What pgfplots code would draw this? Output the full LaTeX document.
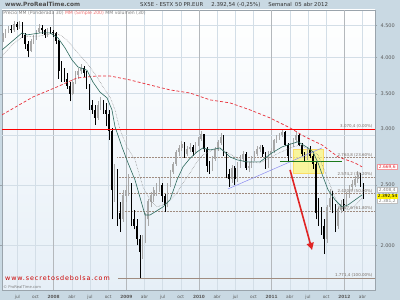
\documentclass[border=0pt]{standalone}
\usepackage{pgfplots}
\pgfplotsset{compat=1.18}
\usepackage{pgfplotstable}
\usepackage{fontspec}
\setmainfont{DejaVu Sans}
\newfontfamily\wfont[LetterSpace=14]{DejaVu Sans}
\usetikzlibrary{arrows.meta}
\definecolor{bgout}{HTML}{C9D9E3}
\definecolor{plotbot}{HTML}{E6EFF7}
\definecolor{gridc}{HTML}{D3DEE7}
\definecolor{yearc}{HTML}{B4B8BC}
\definecolor{axisc}{HTML}{9AA4AC}
\definecolor{lab}{HTML}{5A5A5A}
\definecolor{upc}{HTML}{A8A8A8}
\definecolor{tealc}{HTML}{2D6A5E}
\definecolor{smac}{HTML}{E8303A}
\definecolor{fibc}{HTML}{A08C80}
\definecolor{fibt}{HTML}{7A6E66}
\definecolor{bluel}{HTML}{8C8CF0}
\definecolor{greenl}{HTML}{1C7A1C}
\definecolor{arrowc}{HTML}{E02424}
\definecolor{yel}{HTML}{FBF57E}
\definecolor{legpink}{HTML}{F07070}

\pgfplotstableread{
t o h l c
2007.300 4280 4380 4230 4330
2007.338 4330 4450 4300 4400
2007.377 4400 4490 4370 4450
2007.415 4450 4500 4380 4420
2007.454 4420 4570 4400 4520
2007.492 4520 4560 4430 4480
2007.531 4480 4580 4450 4540
2007.569 4540 4560 4300 4350
2007.608 4350 4380 4120 4200
2007.646 4200 4250 4000 4100
2007.685 4100 4280 4080 4250
2007.723 4250 4340 4200 4300
2007.762 4300 4430 4270 4400
2007.800 4400 4520 4380 4460
2007.838 4460 4500 4360 4420
2007.877 4420 4440 4300 4350
2007.915 4350 4460 4320 4420
2007.954 4420 4470 4360 4400
2007.992 4400 4430 4320 4380
2008.031 4380 4400 4200 4250
2008.069 4250 4260 3700 3800
2008.108 3800 3950 3650 3750
2008.146 3750 3850 3650 3700
2008.185 3700 3780 3560 3600
2008.223 3600 3650 3400 3500
2008.262 3500 3700 3480 3650
2008.300 3650 3800 3620 3750
2008.338 3750 3850 3700 3800
2008.377 3800 3900 3760 3850
2008.415 3850 3870 3720 3780
2008.454 3780 3800 3560 3600
2008.492 3600 3620 3300 3350
2008.531 3350 3420 3250 3300
2008.569 3300 3350 3120 3200
2008.608 3200 3400 3180 3350
2008.646 3350 3450 3300 3380
2008.685 3380 3420 3250 3300
2008.723 3300 3380 3100 3250
2008.762 3250 3300 2950 3050
2008.800 3050 3080 2200 2450
2008.838 2450 2700 2350 2600
2008.877 2600 2650 2150 2250
2008.915 2250 2350 2100 2200
2008.954 2200 2450 2180 2400
2008.992 2400 2500 2350 2450
2009.031 2450 2600 2400 2500
2009.069 2500 2520 2150 2200
2009.108 2200 2280 2120 2150
2009.146 2150 2200 2000 2050
2009.185 2050 2080 1771 1950
2009.223 1950 2080 1900 2050
2009.262 2050 2250 2020 2200
2009.300 2200 2370 2150 2350
2009.338 2350 2430 2300 2400
2009.377 2400 2480 2350 2450
2009.415 2450 2520 2400 2470
2009.454 2470 2560 2430 2500
2009.492 2500 2520 2350 2400
2009.531 2400 2420 2260 2320
2009.569 2320 2520 2300 2500
2009.608 2500 2640 2480 2620
2009.646 2620 2720 2600 2700
2009.685 2700 2840 2680 2820
2009.723 2820 2900 2780 2860
2009.762 2860 2940 2830 2900
2009.800 2900 2930 2760 2800
2009.838 2800 2880 2780 2850
2009.877 2850 2920 2820 2870
2009.915 2870 2890 2780 2820
2009.954 2820 2930 2800 2910
2009.992 2910 2980 2880 2960
2010.031 2960 3050 2940 3010
2010.069 3010 3020 2820 2850
2010.108 2850 2870 2620 2680
2010.146 2680 2730 2600 2650
2010.185 2650 2780 2630 2750
2010.223 2750 2870 2730 2850
2010.262 2850 2950 2830 2920
2010.300 2920 3030 2900 2980
2010.338 2980 3000 2780 2800
2010.377 2800 2820 2560 2600
2010.415 2600 2650 2480 2550
2010.454 2550 2690 2520 2660
2010.492 2660 2680 2500 2550
2010.531 2550 2720 2530 2700
2010.569 2700 2790 2660 2750
2010.608 2750 2830 2720 2800
2010.646 2800 2820 2640 2660
2010.685 2660 2720 2620 2680
2010.723 2680 2780 2660 2760
2010.762 2760 2830 2730 2800
2010.800 2800 2880 2780 2850
2010.838 2850 2900 2820 2870
2010.877 2870 2890 2770 2800
2010.915 2800 2820 2650 2680
2010.954 2680 2830 2660 2800
2010.992 2800 2860 2770 2830
2011.031 2830 2960 2810 2950
2011.069 2950 3000 2920 2980
2011.108 2980 3030 2950 3000
2011.146 3000 3070 2980 3040
2011.185 3040 3050 2880 2900
2011.223 2900 2920 2720 2780
2011.262 2780 2920 2760 2900
2011.300 2900 2970 2870 2950
2011.338 2950 3040 2930 3000
2011.377 3000 3010 2880 2900
2011.415 2900 2920 2780 2800
2011.454 2800 2820 2720 2760
2011.492 2760 2870 2740 2840
2011.531 2840 2880 2760 2780
2011.569 2780 2800 2650 2700
2011.608 2700 2720 2200 2250
2011.646 2250 2380 2150 2200
2011.685 2200 2300 2080 2150
2011.723 2150 2200 1935 2050
2011.762 2050 2320 2020 2300
2011.800 2300 2460 2280 2380
2011.838 2380 2440 2250 2300
2011.877 2300 2330 2100 2150
2011.915 2150 2300 2120 2280
2011.954 2280 2360 2250 2330
2011.992 2330 2370 2270 2320
2012.031 2320 2430 2300 2400
2012.069 2400 2500 2380 2480
2012.108 2480 2540 2450 2500
2012.146 2500 2580 2480 2550
2012.185 2550 2630 2520 2590
2012.223 2590 2610 2480 2500
2012.262 2500 2520 2370 2392
}\candles

\begin{document}
\begin{tikzpicture}[x=1pt,y=1pt]
\useasboundingbox (0,0) rectangle (400,300);
\fill[bgout] (0,0) rectangle (400,300);
\begin{axis}[
  at={(2pt,10pt)}, anchor=south west, scale only axis,
  width=373pt, height=280pt,
  xmin=2007.2884, xmax=2012.4226,
  ymode=log, ymin=1695.8, ymax=4765,
  axis background/.style={top color=white, bottom color=plotbot},
  axis line style={draw=axisc},
  grid=major, major grid style={draw=gridc, line width=0.45pt},
  xtick={2007.5,2007.75,2008.25,2008.5,2008.75,2009.25,2009.5,2009.75,2010.25,2010.5,2010.75,2011.25,2011.5,2011.75,2012.25},
  xticklabels={jul,oct,abr,jul,oct,abr,jul,oct,abr,jul,oct,abr,jul,oct,abr},
  extra x ticks={2008,2009,2010,2011,2012},
  extra x tick labels={\textbf{2008},\textbf{2009},\textbf{2010},\textbf{2011},\textbf{2012}},
  extra x tick style={major grid style={draw=yearc, line width=0.6pt}, xtick style={draw=none}},
  xtick style={draw=none},
  ytick={2000,2500,3500,4000,4500},
  yticklabels={2.000,2.500,3.500,4.000,4.500},
  extra y ticks={3000},
  extra y tick labels={3.000},
  extra y tick style={yticklabel style={yshift=7pt}, ytick style={draw=none}},
  yticklabel pos=right,
  ytick style={draw=axisc},
  tick align=outside, major tick length=2.5pt,
  xticklabel style={font=\fontsize{4.3}{5}\selectfont, text=lab, yshift=1pt},
  yticklabel style={font=\fontsize{5}{6}\selectfont, text=lab, xshift=-0.5pt},
  unbounded coords=discard,
]
% fibonacci levels
\addplot[fibc, densely dotted, line width=0.5pt, forget plot] coordinates {(2008.873,2763.8) (2012.4226,2763.8)};
\addplot[fibc, densely dotted, line width=0.5pt, forget plot] coordinates {(2008.873,2574.2) (2012.4226,2574.2)};
\addplot[fibc, densely dotted, line width=0.5pt, forget plot] coordinates {(2008.873,2420.9) (2012.4226,2420.9)};
\addplot[fibc, densely dotted, line width=0.5pt, forget plot] coordinates {(2008.873,2267.6) (2012.4226,2267.6)};
\addplot[fibc, line width=0.6pt, forget plot] coordinates {(2008.886,1771.4) (2012.4226,1771.4)};
% yellow box
\addplot[fill=yel, fill opacity=0.75, draw=yel!80!orange, line width=0.4pt, forget plot] coordinates {(2011.293,2611) (2011.707,2611) (2011.707,2853) (2011.293,2853)} -- cycle;
% wicks up
\addplot[draw=none, mark=none, forget plot,
  error bars/.cd, y dir=plus, y explicit, error mark=none,
  error bar style={line width=0.5pt, color=upc}]
  table[x=t, y expr={(\thisrow{c}>=\thisrow{o}) ? \thisrow{l} : nan}, y error plus expr={\thisrow{h}-\thisrow{l}}] {\candles};
% wicks down
\addplot[draw=none, mark=none, forget plot,
  error bars/.cd, y dir=plus, y explicit, error mark=none,
  error bar style={line width=0.5pt, color=black}]
  table[x=t, y expr={(\thisrow{c}<\thisrow{o}) ? \thisrow{l} : nan}, y error plus expr={\thisrow{h}-\thisrow{l}}] {\candles};
% bodies up
\addplot[draw=none, mark=none, forget plot,
  error bars/.cd, y dir=plus, y explicit, error mark=none,
  error bar style={line width=1.6pt, color=upc}]
  table[x=t, y expr={(\thisrow{c}>=\thisrow{o}) ? \thisrow{o} : nan}, y error plus expr={\thisrow{c}-\thisrow{o}+3}] {\candles};
% bodies down
\addplot[draw=none, mark=none, forget plot,
  error bars/.cd, y dir=plus, y explicit, error mark=none,
  error bar style={line width=1.6pt, color=black}]
  table[x=t, y expr={(\thisrow{c}<\thisrow{o}) ? \thisrow{c} : nan}, y error plus expr={\thisrow{o}-\thisrow{c}}] {\candles};
% 0% level
\addplot[red, line width=0.8pt, forget plot] coordinates {(2007.2884,3070.4) (2012.4226,3070.4)};
% blue trend line
\addplot[bluel, line width=0.5pt, forget plot] coordinates {(2010.399,2462) (2011.693,2864)};
% green line
\addplot[greenl, line width=1pt, forget plot] coordinates {(2011.114,2720) (2011.968,2720)};
% SMA 200
\addplot[smac, line width=0.7pt, dash pattern=on 3pt off 2pt, forget plot] coordinates {
(2007.288,3236) (2007.715,3457) (2008.045,3587) (2008.321,3708) (2008.596,3735) (2008.775,3735)
(2009.050,3681) (2009.326,3613) (2009.601,3548) (2009.876,3508) (2010.151,3420) (2010.427,3382)
(2010.702,3296) (2010.977,3200) (2011.253,3084) (2011.459,2984) (2011.693,2896) (2011.914,2771)
(2012.147,2710) (2012.244,2671)};
% MM volumen (30)
\addplot[gray, densely dotted, line width=0.5pt, forget plot] coordinates {
(2007.288,4021) (2007.426,4188) (2007.564,4313) (2007.811,4329) (2008.018,4378) (2008.114,4329)
(2008.183,4266) (2008.321,4081) (2008.458,3919) (2008.596,3723) (2008.679,3587) (2008.775,3457)
(2008.844,3296) (2008.913,3062) (2009.009,2875) (2009.119,2741) (2009.229,2480) (2009.326,2364)
(2009.422,2304) (2009.505,2321) (2009.601,2364) (2009.697,2426) (2009.780,2517) (2009.876,2611)
(2009.972,2720) (2010.055,2791) (2010.193,2843) (2010.330,2843) (2010.468,2781) (2010.633,2720)
(2010.840,2710) (2011.046,2791) (2011.253,2864) (2011.390,2896) (2011.528,2843) (2011.638,2791)
(2011.735,2621) (2011.831,2453) (2011.914,2321) (2012.051,2278) (2012.147,2312) (2012.244,2381)};
% WMA 30
\addplot[tealc, line width=0.6pt, forget plot] coordinates {
(2007.288,4111) (2007.564,4378) (2007.633,4346) (2007.811,4378) (2007.949,4378) (2008.059,4298)
(2008.156,4142) (2008.252,3963) (2008.334,3862) (2008.458,3815) (2008.541,3652) (2008.637,3520)
(2008.734,3445) (2008.802,3296) (2008.844,3097) (2008.940,2875) (2009.023,2710) (2009.119,2545)
(2009.257,2236) (2009.326,2236) (2009.505,2304) (2009.601,2364) (2009.697,2545) (2009.780,2671)
(2009.876,2756) (2009.972,2822) (2010.055,2864) (2010.151,2843) (2010.289,2864) (2010.427,2771)
(2010.523,2741) (2010.661,2720) (2010.840,2720) (2011.005,2812) (2011.143,2875) (2011.225,2897)
(2011.363,2930) (2011.501,2864) (2011.570,2822) (2011.639,2710) (2011.708,2574) (2011.777,2453)
(2011.873,2364) (2011.969,2304) (2012.052,2321) (2012.148,2364) (2012.244,2408)};
% red arrow
\addplot[arrowc, line width=1.6pt, -{Triangle[length=7pt,width=7pt]}, forget plot] coordinates {(2011.253,2641) (2011.556,1966)};
% fibo labels
\begin{scope}[every node/.style={font=\fontsize{4}{5}\selectfont, text=fibt, anchor=south east, inner sep=0.6pt}]
\node at (axis cs:2012.40,3070.4) {3.070,4 (0.00\%)};
\node at (axis cs:2012.40,2763.8) {2.763,8 (23.60\%)};
\node at (axis cs:2012.40,2574.2) {2.574,2 (38.20\%)};
\node at (axis cs:2012.40,2420.9) {2.420,9 (50.00\%)};
\node at (axis cs:2012.40,2267.6) {2.267,6 (61.80\%)};
\node at (axis cs:2012.40,1771.4) {1.771,4 (100.00\%)};
\end{scope}
% legend and copyright inside the plot
\node[anchor=west, font=\fontsize{4.6}{5}\selectfont, inner sep=0] at (rel axis cs:0.003,0.989) {\textcolor{gray}{Precio MM (Ponderada 30)} \textcolor{legpink}{MM (Simple 200)} \textcolor{gray}{MM volumen (30)}};
\node[anchor=west, font=\fontsize{3.8}{4}\selectfont, text=gray, inner sep=0] at (rel axis cs:0.003,0.011) {\textcopyright\ ProRealTime.com};
\node[anchor=west, font=\wfont\fontsize{6.4}{7}\selectfont, text=red!80!black, inner sep=0] at (rel axis cs:0.008,0.043) {www.secretosdebolsa.com};
\end{axis}
% title bar
\node[anchor=west, font=\fontsize{5.8}{6}\selectfont\bfseries, text=black!70, inner sep=0] at (5,295.5) {www.ProRealTime.com};
\node[anchor=west, font=\fontsize{5.4}{6}\selectfont, text=black!80, inner sep=0] at (140,295.5) {SX5E - ESTX 50 PR.EUR\hspace{8pt}2.392,54 (-0,25\%)\hspace{8pt}Semanal\hspace{3pt}05 abr 2012};
% right value boxes
\begin{scope}[every node/.style={font=\fontsize{4.4}{5}\selectfont, inner sep=0.7pt, minimum width=20pt, anchor=west}]
\node[draw=smac!50, fill=white, text=smac] at (377,133) {2.669,6};
\node[draw=gray!50, fill=white, text=gray] at (377,110) {2.408,4};
\node[draw=gray!50, fill=white, text=gray] at (377,99) {2.381,2};
\node[fill=yellow, text=black] at (377,103.5) {2.392,54};
\end{scope}
\end{tikzpicture}
\end{document}
